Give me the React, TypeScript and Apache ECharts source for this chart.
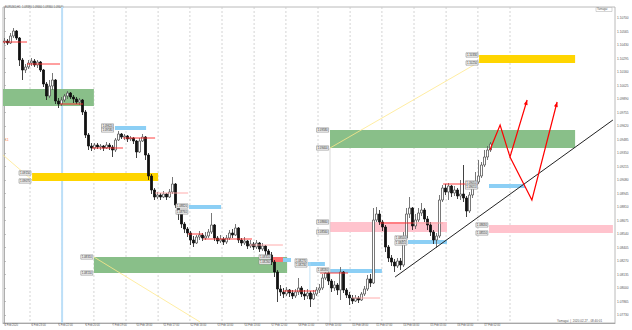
import React, { useEffect, useRef } from 'react';
import * as echarts from 'echarts';

// ---------- DATA ----------
const symbolHeader = 'EURUSD,H1  1.09380 1.09460 1.09360 1.09440';
const footerText = 'Yamagai  |  2020.02.27 - 08:40:01';
const cornerText = 'Yamagai';

const firstOpen = 1.1046;
const closes = [
  1.1047, 1.1045, 1.1052, 1.1057, 1.1050, 1.1028, 1.1018, 1.1021, 1.1025, 1.1027,
  1.1023, 1.1026, 1.1018, 1.1004, 1.0992, 1.1002, 1.1008, 1.0987, 1.0984, 1.0988,
  1.0992, 1.0995, 1.0991, 1.0989, 1.0986, 1.0988, 1.0976, 1.0953, 1.0942, 1.0940,
  1.0943, 1.0941, 1.0942, 1.0940, 1.0943, 1.0941, 1.0938, 1.0948, 1.0954, 1.0951,
  1.0952, 1.0949, 1.0950, 1.0947, 1.0936, 1.0947, 1.0951, 1.0933, 1.0912, 1.0898,
  1.0891, 1.0893, 1.0891, 1.0894, 1.0891, 1.0896, 1.0904, 1.0883, 1.0874, 1.0864,
  1.0859, 1.0855, 1.0848, 1.0845, 1.0851, 1.0853, 1.0850, 1.0852, 1.0856, 1.0863,
  1.0850, 1.0847, 1.0849, 1.0846, 1.0850, 1.0855, 1.0853, 1.0860, 1.0848, 1.0845,
  1.0847, 1.0842, 1.0844, 1.0841, 1.0845, 1.0839, 1.0842, 1.0837, 1.0833, 1.0826,
  1.0816, 1.0799, 1.0796, 1.0794, 1.0798, 1.0795, 1.0792, 1.0796, 1.0800, 1.0794,
  1.0792, 1.0795, 1.0789, 1.0794, 1.0798, 1.0800, 1.0810, 1.0815, 1.0807, 1.0800,
  1.0803, 1.0798, 1.0816, 1.0798, 1.0793, 1.0790, 1.0787, 1.0790, 1.0788, 1.0794,
  1.0799, 1.0809, 1.0805, 1.0868, 1.0874, 1.0866, 1.0861, 1.0841, 1.0830, 1.0826,
  1.0822, 1.0827, 1.0823, 1.0850, 1.0874, 1.0880, 1.0862, 1.0868, 1.0875, 1.0878,
  1.0869, 1.0863, 1.0856, 1.0848, 1.0852, 1.0888, 1.0900, 1.0896, 1.0902, 1.0895,
  1.0898, 1.0892, 1.0894, 1.0890, 1.0877, 1.0893, 1.0902, 1.0906, 1.0912, 1.0923,
  1.0931, 1.0938, 1.0944,
];
const highs = [
  1.1050, 1.1049, 1.1055, 1.1060, 1.1058, 1.1051, 1.1030, 1.1024, 1.1028, 1.1030,
  1.1029, 1.1028, 1.1027, 1.1019, 1.1006, 1.1008, 1.1015, 1.1009, 1.0990, 1.0991,
  1.0994, 1.0997, 1.0996, 1.0993, 1.0991, 1.0990, 1.0989, 1.0978, 1.0955, 1.0945,
  1.0945, 1.0945, 1.0944, 1.0943, 1.0946, 1.0945, 1.0943, 1.0950, 1.0957, 1.0955,
  1.0954, 1.0953, 1.0952, 1.0951, 1.0948, 1.0950, 1.0954, 1.0952, 1.0935, 1.0914,
  1.0900, 1.0896, 1.0895, 1.0897, 1.0895, 1.0899, 1.0911, 1.0905, 1.0884, 1.0876,
  1.0866, 1.0861, 1.0857, 1.0852, 1.0853, 1.0857, 1.0855, 1.0856, 1.0859, 1.0875,
  1.0864, 1.0852, 1.0853, 1.0851, 1.0853, 1.0858, 1.0859, 1.0864, 1.0861, 1.0850,
  1.0851, 1.0848, 1.0848, 1.0846, 1.0848, 1.0846, 1.0845, 1.0843, 1.0839, 1.0836,
  1.0828, 1.0818, 1.0803, 1.0800, 1.0801, 1.0799, 1.0798, 1.0799, 1.0810, 1.0802,
  1.0798, 1.0799, 1.0797, 1.0798, 1.0801, 1.0804, 1.0814, 1.0819, 1.0817, 1.0809,
  1.0807, 1.0805, 1.0821, 1.0817, 1.0800, 1.0796, 1.0793, 1.0793, 1.0792, 1.0796,
  1.0802, 1.0813, 1.0814, 1.0880, 1.0881, 1.0878, 1.0868, 1.0863, 1.0843, 1.0833,
  1.0829, 1.0830, 1.0830, 1.0856, 1.0880, 1.0891, 1.0881, 1.0874, 1.0880, 1.0885,
  1.0880, 1.0872, 1.0866, 1.0858, 1.0855, 1.0893, 1.0903, 1.0904, 1.0905, 1.0903,
  1.0902, 1.0900, 1.0908, 1.0923, 1.0892, 1.0896, 1.0905, 1.0916, 1.0928, 1.0926,
  1.0938, 1.0942, 1.0946,
];
const lows = [
  1.1044, 1.1043, 1.1044, 1.1050, 1.1048, 1.1022, 1.1008, 1.1015, 1.1019, 1.1022,
  1.1021, 1.1020, 1.1016, 1.1001, 1.0988, 1.0990, 1.0998, 1.0984, 1.0980, 1.0982,
  1.0986, 1.0989, 1.0989, 1.0985, 1.0984, 1.0983, 1.0973, 1.0950, 1.0938, 1.0937,
  1.0938, 1.0939, 1.0938, 1.0937, 1.0939, 1.0938, 1.0931, 1.0936, 1.0947, 1.0949,
  1.0948, 1.0946, 1.0947, 1.0944, 1.0930, 1.0935, 1.0946, 1.0928, 1.0908, 1.0894,
  1.0888, 1.0889, 1.0888, 1.0890, 1.0888, 1.0890, 1.0894, 1.0880, 1.0868, 1.0860,
  1.0855, 1.0851, 1.0843, 1.0841, 1.0844, 1.0848, 1.0847, 1.0848, 1.0850, 1.0854,
  1.0847, 1.0844, 1.0845, 1.0843, 1.0844, 1.0848, 1.0850, 1.0852, 1.0845, 1.0842,
  1.0843, 1.0839, 1.0840, 1.0838, 1.0839, 1.0836, 1.0837, 1.0833, 1.0830, 1.0823,
  1.0811, 1.0786, 1.0792, 1.0790, 1.0792, 1.0791, 1.0789, 1.0790, 1.0793, 1.0791,
  1.0788, 1.0789, 1.0781, 1.0788, 1.0792, 1.0795, 1.0798, 1.0808, 1.0803, 1.0796,
  1.0797, 1.0793, 1.0788, 1.0795, 1.0790, 1.0783, 1.0784, 1.0786, 1.0785, 1.0787,
  1.0792, 1.0797, 1.0801, 1.0804, 1.0866, 1.0863, 1.0857, 1.0836, 1.0826, 1.0822,
  1.0816, 1.0820, 1.0818, 1.0821, 1.0848, 1.0870, 1.0858, 1.0859, 1.0866, 1.0872,
  1.0866, 1.0858, 1.0852, 1.0844, 1.0840, 1.0850, 1.0886, 1.0893, 1.0888, 1.0891,
  1.0892, 1.0889, 1.0888, 1.0886, 1.0871, 1.0875, 1.0890, 1.0900, 1.0904, 1.0910,
  1.0921, 1.0928, 1.0936,
];
const currentPrice = 1.0944;

// time axis: slots (bars + empty future space)
const slotCount = 204;
const timeLabelBars = [0, 9, 18, 27, 36, 44, 53, 62, 71, 80, 89, 98, 107, 116, 124, 133, 142, 151, 160];
const timeLabels = [
  '4 Feb 2020', '4 Feb 23:00', '5 Feb 22:00', '6 Feb 20:00', '7 Feb 19:00', '10 Feb 18:00',
  '11 Feb 17:00', '12 Feb 16:00', '13 Feb 14:00', '14 Feb 13:00', '17 Feb 12:00', '18 Feb 11:00',
  '19 Feb 10:00', '20 Feb 08:00', '21 Feb 07:00', '24 Feb 06:00', '25 Feb 05:00', '26 Feb 04:00',
  '27 Feb 02:00',
];
const priceTicks = [
  1.0773, 1.07865, 1.08, 1.08135, 1.0827, 1.08405, 1.0854, 1.08675, 1.0881, 1.08945, 1.0908,
  1.09215, 1.0935, 1.09485, 1.0962, 1.09755, 1.0989, 1.10025, 1.1016, 1.10295, 1.1043, 1.10565, 1.107,
];
const separatorBars = [8.5, 19.2, 29.8, 40.5, 51.2, 61.8, 72.5, 83.2, 93.8, 104.5, 115.2, 125.8, 136.5, 147.2, 157.8, 168.5];
const markerBar = 19.2;

// supply / demand zones
const zoneStart = [-0.5, 9.2, 29.8, 108.5, 158.2, 108.5, 161.5];
const zoneEnd = [29.8, 51.2, 94.2, 190.2, 190.2, 147.5, 202.8];
const zoneHigh = [1.0999, 1.0915, 1.0831, 1.0958, 1.1033, 1.0866, 1.0863];
const zoneLow = [1.0982, 1.0907, 1.0815, 1.0940, 1.1025, 1.0856, 1.0855];
const zoneKind = ['green', 'yellow', 'green', 'green', 'yellow', 'pink', 'pink'];

// thin level bars
const levelStart = [36.8, 61.5, 92.8, 101.2, 108.5, 134.5, 161.5, 89.2];
const levelEnd = [47.2, 72.2, 95.5, 106.8, 125.8, 147.5, 173.5, 92.8];
const levelHigh = [1.0962, 1.0883, 1.0830, 1.0826, 1.0819, 1.0848, 1.0904, 1.0831];
const levelLow = [1.0958, 1.0879, 1.0826, 1.0822, 1.0815, 1.0844, 1.0900, 1.0826];
const levelKind = ['blue', 'blue', 'blue', 'blue', 'blue', 'blue', 'blue', 'red'];

// red horizontal lines
const lineStart = [-0.5, 7.5, 18.5, 29.2, 39.5, 50.2, 61.2, 66.2, 81.8, 92.8, 105.2, 115.8, 125.2, 136.2, 146.2];
const lineEnd = [7.5, 18.5, 26.2, 39.5, 50.2, 61.2, 66.2, 82.5, 92.8, 103.8, 114.5, 125.2, 136.2, 146.2, 157.8];
const lineLevel = [1.1046, 1.1024, 1.0984, 1.0940, 1.0950, 1.0895, 1.0854, 1.0849, 1.0843, 1.0797, 1.0815, 1.0790, 1.0865, 1.0865, 1.0904];
const lineStrong = [1, 1, 1, 1, 1, 0, 1, 1, 0, 1, 1, 0, 1, 0, 1];

// price tags
const tagBar = [108.2, 108.2, 158, 158, 9, 9, 29.6, 29.6, 108.2, 108.2, 161.3, 161.3, 36.5, 36.5, 61.3, 89, 89, 101, 101, 134.3, 134.3, 157.8, 157.8, 108.3, 61.3];
const tagPrice = [1.0958, 1.0940, 1.1033, 1.1025, 1.0915, 1.0907, 1.0831, 1.0815, 1.0866, 1.0856, 1.0863, 1.0855, 1.0962, 1.0958, 1.0882, 1.0831, 1.0826, 1.0827, 1.0823, 1.0850, 1.0845, 1.0905, 1.0901, 1.0818, 1.0876];

// trend lines
const fanFrom = [[-0.5, 1.0933], [29.8, 1.0831], [108.5, 1.0940]];
const fanTo = [[9.2, 1.0908], [65.2, 1.0766], [158.2, 1.1026]];
const supportFrom = [130.2, 1.0811];
const supportTo = [202.8, 1.0968];

// forecast paths
const forecastA = [[161.8, 1.0938], [165.2, 1.0963], [168.5, 1.0931], [174.2, 1.0988]];
const forecastB = [[168.5, 1.0931], [175.8, 1.0888], [184.2, 1.0986]];

const zoneColors: Record<string, string> = { green: '#89bf89', yellow: '#ffd500', pink: '#ffc3cd', blue: '#8ccff5', red: '#ff7070' };

export default function App() {
  const ref = useRef<HTMLDivElement>(null);
  useEffect(() => {
    const chart = echarts.init(ref.current as HTMLDivElement, null, { renderer: 'svg' });
    const opens = closes.map((c, i) => (i === 0 ? firstOpen : closes[i - 1]));
    const candleData = closes.map((c, i) => {
      const o = opens[i];
      return [o, c, Math.min(lows[i], o, c), Math.max(highs[i], o, c)];
    });
    const categories = Array.from({ length: slotCount }, (_, i) => {
      const k = timeLabelBars.indexOf(i);
      return k >= 0 ? timeLabels[k] : '';
    });
    const showAt = (i: number) => timeLabelBars.indexOf(i) >= 0;

    const rectItem = (kinds: string[]) => (params: any, api: any) => {
      const a = api.coord([api.value(0), api.value(2)]);
      const b = api.coord([api.value(1), api.value(3)]);
      return {
        type: 'rect',
        shape: { x: a[0], y: a[1], width: b[0] - a[0], height: b[1] - a[1] },
        style: { fill: zoneColors[kinds[params.dataIndex]] },
      };
    };

    const arrowHead = (p: number[], t: number[]) => {
      const dx = t[0] - p[0];
      const dy = t[1] - p[1];
      const len = Math.sqrt(dx * dx + dy * dy) || 1;
      const ux = dx / len;
      const uy = dy / len;
      const L = 5;
      const W = 2;
      return [
        [t[0], t[1]],
        [t[0] - L * ux + W * uy, t[1] - L * uy - W * ux],
        [t[0] - L * ux - W * uy, t[1] - L * uy + W * ux],
      ];
    };

    const option: any = {
      animation: false,
      backgroundColor: '#ffffff',
      textStyle: { fontFamily: 'Liberation Sans' },
      grid: { left: 3, right: 17, top: 7, bottom: 7, show: true, borderColor: '#a8a8a8', borderWidth: 0.8 },
      xAxis: [
        {
          type: 'category',
          data: categories,
          boundaryGap: true,
          axisLine: { show: true, lineStyle: { color: '#999', width: 0.8 } },
          axisTick: { show: true, alignWithLabel: true, interval: showAt, length: 1.5, lineStyle: { color: '#999', width: 0.6 } },
          axisLabel: { interval: showAt, align: 'left', fontSize: 2.7, color: '#555', margin: 1.2 },
          splitLine: { show: false },
        },
        { type: 'value', min: -0.5, max: slotCount - 0.5, show: false },
      ],
      yAxis: {
        type: 'value',
        position: 'right',
        min: 1.0765,
        max: 1.1081,
        axisLine: { show: true, lineStyle: { color: '#999', width: 0.8 } },
        axisTick: { show: true, customValues: priceTicks, length: 1.5, lineStyle: { color: '#999', width: 0.6 } },
        axisLabel: { customValues: priceTicks, formatter: (v: number) => v.toFixed(5), fontSize: 3.2, color: '#555', margin: 2 },
        splitLine: { show: false },
      },
      graphic: [
        { type: 'text', x: 5, y: 6.5, style: { text: symbolHeader, fontSize: 2.7, fill: '#555', fontFamily: 'Liberation Sans' } },
        { type: 'rect', shape: { x: 596, y: 7.5, width: 16, height: 4 }, style: { fill: '#fff', stroke: '#aaa', lineWidth: 0.5 } },
        { type: 'text', x: 597, y: 8, style: { text: cornerText, fontSize: 2.7, fill: '#555', fontFamily: 'Liberation Sans' } },
        { type: 'text', x: 557, y: 319.5, style: { text: footerText, fontSize: 3, fill: '#555', fontFamily: 'Liberation Sans' } },
        { type: 'text', x: 5, y: 137.5, style: { text: '11', fontSize: 3.5, fill: '#ff7a3c', fontFamily: 'Liberation Sans' } },
      ],
      series: [
        {
          type: 'custom',
          name: 'separators',
          xAxisIndex: 1,
          clip: true,
          z: 0,
          encode: { x: 0, y: 1 },
          data: separatorBars.map((v) => [v, 1.09]),
          renderItem: (params: any, api: any) => {
            const x = api.coord([api.value(0), 1.09])[0];
            const cs = params.coordSys;
            return {
              type: 'line',
              shape: { x1: x, y1: cs.y, x2: x, y2: cs.y + cs.height },
              style: { stroke: '#c9c9c9', lineWidth: 0.8, lineDash: [2, 2] },
            };
          },
        },
        {
          type: 'custom',
          name: 'marker',
          xAxisIndex: 1,
          clip: true,
          z: 0,
          encode: { x: 0, y: 1 },
          data: [[markerBar, 1.09]],
          renderItem: (params: any, api: any) => {
            const x = api.coord([api.value(0), 1.09])[0];
            const cs = params.coordSys;
            return {
              type: 'line',
              shape: { x1: x, y1: cs.y, x2: x, y2: cs.y + cs.height },
              style: { stroke: '#bcdff8', lineWidth: 2 },
            };
          },
        },
        {
          type: 'custom',
          name: 'zones',
          xAxisIndex: 1,
          clip: true,
          z: 1,
          encode: { x: [0, 1], y: [2, 3] },
          data: zoneStart.map((s, i) => [s, zoneEnd[i], zoneHigh[i], zoneLow[i]]),
          renderItem: rectItem(zoneKind),
        },
        {
          type: 'custom',
          name: 'levels',
          xAxisIndex: 1,
          clip: true,
          z: 1,
          encode: { x: [0, 1], y: [2, 3] },
          data: levelStart.map((s, i) => [s, levelEnd[i], levelHigh[i], levelLow[i]]),
          renderItem: rectItem(levelKind),
        },
        {
          type: 'custom',
          name: 'guides',
          xAxisIndex: 1,
          clip: true,
          z: 1,
          encode: { x: 0, y: 1 },
          data: [[108.5, 1.0940], [101.8, 1.0826]],
          renderItem: (params: any, api: any) => {
            const a = api.coord([api.value(0), api.value(1)]);
            const cs = params.coordSys;
            const isFirst = params.dataIndex === 0;
            return {
              type: 'line',
              shape: { x1: a[0], y1: a[1], x2: a[0], y2: isFirst ? cs.y + cs.height : api.coord([0, 1.0788])[1] },
              style: { stroke: isFirst ? '#cfcfcf' : '#b5dcf5', lineWidth: 0.8 },
            };
          },
        },
        {
          type: 'candlestick',
          name: 'EURUSD',
          xAxisIndex: 0,
          z: 2,
          barWidth: 1.6,
          data: candleData,
          itemStyle: { color: '#ffffff', color0: '#111111', borderColor: '#555555', borderColor0: '#111111', borderWidth: 0.8 },
          markLine: {
            silent: true,
            symbol: 'none',
            data: [{ yAxis: currentPrice }],
            lineStyle: { opacity: 0 },
            label: {
              position: 'end',
              formatter: () => currentPrice.toFixed(5),
              backgroundColor: '#000',
              color: '#fff',
              fontSize: 3.2,
              padding: [0.6, 1.2],
              distance: 2,
            },
          },
        },
        {
          type: 'custom',
          name: 'redLines',
          xAxisIndex: 1,
          clip: true,
          z: 3,
          encode: { x: [0, 1], y: 2 },
          data: lineStart.map((s, i) => [s, lineEnd[i], lineLevel[i]]),
          renderItem: (params: any, api: any) => {
            const a = api.coord([api.value(0), api.value(2)]);
            const b = api.coord([api.value(1), api.value(2)]);
            const strong = lineStrong[params.dataIndex] === 1;
            return {
              type: 'line',
              shape: { x1: a[0], y1: a[1], x2: b[0], y2: b[1] },
              style: { stroke: strong ? '#ff2a2a' : '#ffa3a3', lineWidth: 0.9 },
            };
          },
        },
        {
          type: 'custom',
          name: 'fans',
          xAxisIndex: 1,
          clip: true,
          z: 3,
          encode: { x: [0, 2], y: [1, 3] },
          data: fanFrom.map((f, i) => [f[0], f[1], fanTo[i][0], fanTo[i][1]]),
          renderItem: (params: any, api: any) => {
            const a = api.coord([api.value(0), api.value(1)]);
            const b = api.coord([api.value(2), api.value(3)]);
            return {
              type: 'line',
              shape: { x1: a[0], y1: a[1], x2: b[0], y2: b[1] },
              style: { stroke: '#ffe98a', lineWidth: 0.8 },
            };
          },
        },
        {
          type: 'custom',
          name: 'support',
          xAxisIndex: 1,
          clip: true,
          z: 4,
          encode: { x: [0, 2], y: [1, 3] },
          data: [[supportFrom[0], supportFrom[1], supportTo[0], supportTo[1]]],
          renderItem: (params: any, api: any) => {
            const a = api.coord([api.value(0), api.value(1)]);
            const b = api.coord([api.value(2), api.value(3)]);
            return {
              type: 'line',
              shape: { x1: a[0], y1: a[1], x2: b[0], y2: b[1] },
              style: { stroke: '#222222', lineWidth: 1 },
            };
          },
        },
        {
          type: 'custom',
          name: 'forecast',
          xAxisIndex: 1,
          clip: true,
          z: 5,
          encode: { x: 0, y: 1 },
          data: [[forecastA[0][0], forecastA[0][1]], [forecastB[0][0], forecastB[0][1]]],
          renderItem: (params: any, api: any) => {
            const path = params.dataIndex === 0 ? forecastA : forecastB;
            const pts = path.map((p) => api.coord(p));
            const n = pts.length;
            return {
              type: 'group',
              children: [
                { type: 'polyline', shape: { points: pts }, style: { stroke: '#ff0000', lineWidth: 1.2, fill: 'none' } },
                { type: 'polygon', shape: { points: arrowHead(pts[n - 2], pts[n - 1]) }, style: { fill: '#ff0000' } },
              ],
            };
          },
        },
        {
          type: 'custom',
          name: 'tags',
          xAxisIndex: 1,
          clip: false,
          z: 6,
          encode: { x: 0, y: 1 },
          data: tagBar.map((b, i) => [b, tagPrice[i]]),
          renderItem: (params: any, api: any) => {
            const p = api.coord([api.value(0), api.value(1)]);
            const txt = Number(api.value(1)).toFixed(5);
            return {
              type: 'group',
              children: [
                { type: 'rect', shape: { x: p[0] - 12.5, y: p[1] - 2.2, width: 12, height: 4.4 }, style: { fill: '#f2f2f2', stroke: '#7a7a7a', lineWidth: 0.5 } },
                { type: 'text', style: { x: p[0] - 6.5, y: p[1], text: txt, fontSize: 2.8, fill: '#222', align: 'center', verticalAlign: 'middle', fontFamily: 'Liberation Sans' } },
              ],
            };
          },
        },
      ],
    };
    chart.setOption(option);
    return () => chart.dispose();
  }, []);
  return <div ref={ref} style={{ position: 'fixed', left: 0, top: 0, width: 632, height: 330 }} />;
}
